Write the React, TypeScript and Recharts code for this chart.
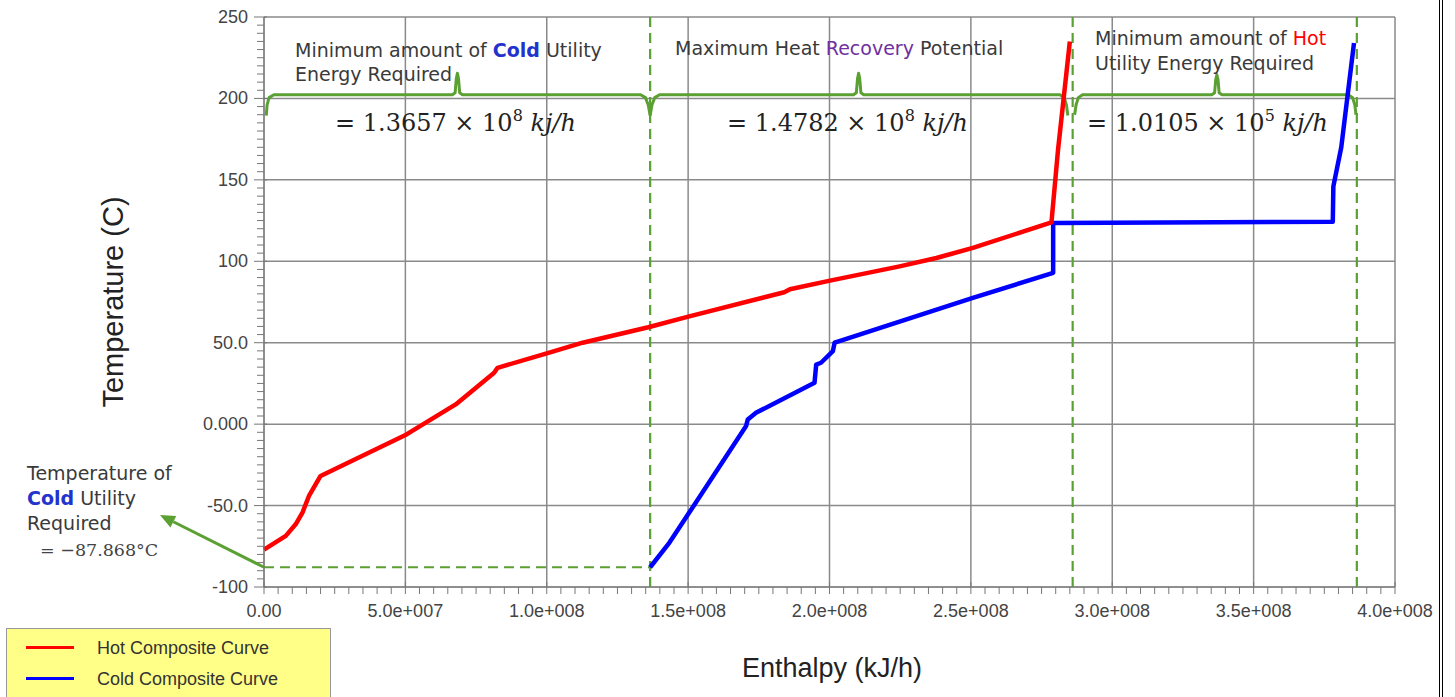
import { LineChart, Line, XAxis, YAxis, CartesianGrid, ReferenceLine } from 'recharts';

// composite curves (enthalpy kJ/h, temperature C)
const hotEnthalpy = [
  0, 7.7e6, 11.2e6, 13.6e6, 15.9e6, 20e6, 50.4e6, 67.8e6, 81.4e6, 82.6e6, 100e6, 112.7e6,
  135.9e6, 150.4e6, 184e6, 186e6, 200.6e6, 224.8e6, 237.8e6, 250.7e6, 278.5e6, 280.8e6, 285e6,
];
const hotTemp = [
  -77, -68.6, -61.5, -54.3, -44.1, -31.8, -6.3, 12.1, 31.5, 34.6, 43.4, 50,
  59.5, 66.2, 81, 82.8, 88.3, 96.9, 102, 108.2, 123.9, 168, 235,
];

const coldEnthalpy = [
  136.57e6, 143.4e6, 150.4e6, 170.5e6, 171.1e6, 174e6, 194.7e6, 195.3e6, 197e6, 201.2e6,
  201.8e6, 203.5e6, 250.7e6, 279.1e6, 279.1e6, 378e6, 378.2e6, 381e6, 385.5e6,
];
const coldTemp = [
  -87.868, -72.7, -54.3, -1.2, 2.9, 7, 25.4, 36.6, 37.7, 44.8,
  50, 51, 77.5, 92.9, 123.5, 124.3, 146, 170, 234,
];

// curly brackets above the three regions
const braceColdX = [0.8e6, 1.1e6, 1.8e6, 3.5e6, 66.6e6, 67.6e6, 68e6, 68.4e6, 68.8e6, 69.2e6, 70.2e6, 133.2e6, 134.9e6, 135.9e6, 136.57e6];
const braceRecovX = [136.57e6, 137.2e6, 138.2e6, 139.9e6, 208.5e6, 209.5e6, 209.9e6, 210.3e6, 210.7e6, 211.1e6, 212.1e6, 281.5e6, 283e6, 283.8e6, 284.3e6];
const braceHotX = [286.7e6, 287.2e6, 288e6, 289.5e6, 335.2e6, 336.2e6, 336.6e6, 337e6, 337.4e6, 337.8e6, 338.8e6, 383.5e6, 385e6, 385.8e6, 386.2e6];
const braceY = [189.5, 196, 200.5, 202.3, 202.3, 203.5, 212, 215.5, 212, 203.5, 202.3, 202.3, 200.5, 196, 189.5];
const braceHotY = [190, 196, 200.5, 202.3, 202.3, 203.5, 211.5, 214.5, 211.5, 203.5, 202.3, 202.3, 200.5, 196, 190];

const pinchLines = [136.57e6, 286e6, 386.5e6];
const coldUtilityTemp = -87.868;
const arrowTip = { h: -36.8e6, t: -55.8 };

const xMajor = [0, 5e7, 1e8, 1.5e8, 2e8, 2.5e8, 3e8, 3.5e8, 4e8];
const xLabels = ['0.00', '5.0e+007', '1.0e+008', '1.5e+008', '2.0e+008', '2.5e+008', '3.0e+008', '3.5e+008', '4.0e+008'];
const yMajor = [-100, -50, 0, 50, 100, 150, 200, 250];
const yLabels = ['-100', '-50.0', '0.000', '50.0', '100', '150', '200', '250'];

const xMinor = Array.from({ length: 81 }, (_, i) => i * 5e6);
const yMinor = Array.from({ length: 71 }, (_, i) => -100 + i * 5);

const pts = (xs: number[], ys: number[]) => xs.map((h, i) => ({ h, t: ys[i] }));

const GREEN = '#5BA033';
const SANS = '"Liberation Sans", Arial, sans-serif';
const VERD = '"DejaVu Sans", Verdana, sans-serif';
const SERIF = '"DejaVu Serif", serif';

const XTick = (props: any) => {
  const { x, y, payload } = props;
  const idx = xMajor.indexOf(payload.value);
  const major = idx >= 0;
  return (
    <g>
      <line x1={x} x2={x} y1={major ? y - 5 : y} y2={y + 7} stroke="#777" strokeWidth={1} />
      {major && (
        <text x={x} y={y + 30} textAnchor="middle" fontSize={18} fill="#444" fontFamily={SANS}>
          {xLabels[idx]}
        </text>
      )}
    </g>
  );
};

const YTick = (props: any) => {
  const { x, y, payload } = props;
  const idx = yMajor.indexOf(payload.value);
  const major = idx >= 0;
  return (
    <g>
      <line x1={major ? x - 10 : x - 7} x2={major ? x + 3 : x} y1={y} y2={y} stroke="#777" strokeWidth={1} />
      {major && (
        <text x={x - 16} y={y + 6} textAnchor="end" fontSize={18} fill="#444" fontFamily={SANS}>
          {yLabels[idx]}
        </text>
      )}
    </g>
  );
};

const ArrowShape = (p: any) => {
  const { x1, y1, x2, y2 } = p;
  const ang = Math.atan2(y2 - y1, x2 - x1);
  const len = 15;
  const w = 6.5;
  const bx = x2 - len * Math.cos(ang);
  const by = y2 - len * Math.sin(ang);
  const px = -Math.sin(ang) * w;
  const py = Math.cos(ang) * w;
  return (
    <g>
      <line x1={x1} y1={y1} x2={bx} y2={by} stroke={GREEN} strokeWidth={3} />
      <polygon points={`${x2},${y2} ${bx + px},${by + py} ${bx - px},${by - py}`} fill={GREEN} />
    </g>
  );
};

const MathText = ({ x, y, mant, exp }: { x: number; y: number; mant: string; exp: string }) => (
  <text x={x} y={y} fontFamily={SERIF} fontSize={24} fill="#222">
    {'= ' + mant + ' × 10'}
    <tspan dy={-10} fontSize={16}>{exp}</tspan>
    <tspan dy={10} fontStyle="italic">{' kj/h'}</tspan>
  </text>
);

export default function App() {
  const braceProps = { dataKey: 't', stroke: GREEN, strokeWidth: 3, dot: false, isAnimationActive: false, strokeLinejoin: 'round' as const };
  return (
    <div style={{ position: 'absolute', left: 0, top: 0, width: 1455, height: 697, background: '#fff', overflow: 'hidden' }}>
      <LineChart width={1455} height={697} margin={{ top: 17, right: 60, bottom: 80, left: 204 }}>
        <CartesianGrid
          stroke="#8a8a8a"
          strokeWidth={1.5}
          horizontalValues={yMajor}
          verticalValues={xMajor}
        />
        <XAxis
          type="number"
          dataKey="h"
          domain={[0, 4e8]}
          ticks={xMinor}
          interval={0}
          tickSize={0}
          tickMargin={0}
          tick={<XTick />}
          height={30}
          stroke="#777"
        />
        <YAxis
          type="number"
          domain={[-100, 250]}
          ticks={yMinor}
          interval={0}
          tickSize={0}
          tickMargin={0}
          tick={<YTick />}
          width={60}
          stroke="#777"
        />
        {pinchLines.map((v) => (
          <ReferenceLine key={v} x={v} stroke={GREEN} strokeWidth={2.2} strokeDasharray="10 6" />
        ))}
        <ReferenceLine
          segment={[{ x: 0, y: coldUtilityTemp }, { x: pinchLines[0], y: coldUtilityTemp }]}
          stroke={GREEN}
          strokeWidth={2.2}
          strokeDasharray="10 6"
        />
        <ReferenceLine
          segment={[{ x: 0, y: coldUtilityTemp }, { x: arrowTip.h, y: arrowTip.t }]}
          ifOverflow="visible"
          shape={ArrowShape}
        />
        <Line data={pts(braceColdX, braceY)} {...braceProps} />
        <Line data={pts(braceRecovX, braceY)} {...braceProps} />
        <Line data={pts(braceHotX, braceHotY)} {...braceProps} />
        <Line data={pts(coldEnthalpy, coldTemp)} dataKey="t" stroke="#0000ff" strokeWidth={4.5} dot={false} isAnimationActive={false} strokeLinejoin="round" />
        <Line data={pts(hotEnthalpy, hotTemp)} dataKey="t" stroke="#ff0000" strokeWidth={4.5} dot={false} isAnimationActive={false} strokeLinejoin="round" />
      </LineChart>

      <svg width={1455} height={697} style={{ position: 'absolute', left: 0, top: 0, pointerEvents: 'none' }}>
        <g fontFamily={VERD} fontSize={19} fill="#3a3a3a">
          <text x={295} y={57}>
            Minimum amount of <tspan fill="#2233cc" fontWeight="bold">Cold</tspan> Utility
          </text>
          <text x={295} y={81}>Energy Required</text>
          <text x={675} y={55}>
            Maximum Heat <tspan fill="#7030A0">Recovery</tspan> Potential
          </text>
          <text x={1095} y={45}>
            Minimum amount of <tspan fill="#ff0000">Hot</tspan>
          </text>
          <text x={1095} y={70}>Utility Energy Required</text>
        </g>
        <MathText x={335} y={131} mant="1.3657" exp="8" />
        <MathText x={727} y={131} mant="1.4782" exp="8" />
        <MathText x={1087} y={131} mant="1.0105" exp="5" />

        <g fontFamily={VERD} fontSize={19} fill="#3a3a3a">
          <text x={27} y={480}>Temperature of</text>
          <text x={27} y={505}>
            <tspan fill="#2233cc" fontWeight="bold">Cold</tspan> Utility
          </text>
          <text x={27} y={530}>Required</text>
        </g>
        <text x={40} y={556} fontFamily={SERIF} fontSize={17.5} fill="#444">
          = −87.868°C
        </text>

        <text x={123} y={302} transform="rotate(-90 123 302)" textAnchor="middle" fontFamily={SANS} fontSize={29} fill="#222">
          Temperature (C)
        </text>
        <text x={832} y={677} textAnchor="middle" fontFamily={SANS} fontSize={27} fill="#222">
          Enthalpy (kJ/h)
        </text>
      </svg>

      <div
        style={{
          position: 'absolute',
          left: 6,
          top: 628,
          width: 323,
          height: 80,
          background: '#ffff88',
          border: '1px solid #999',
          fontFamily: SANS,
          fontSize: 18,
          color: '#333',
        }}
      >
        <div style={{ position: 'absolute', left: 19, top: 17, width: 48, height: 3, background: '#ff0000' }} />
        <div style={{ position: 'absolute', left: 90, top: 9, lineHeight: '20px' }}>Hot Composite Curve</div>
        <div style={{ position: 'absolute', left: 19, top: 48, width: 48, height: 3, background: '#0000ff' }} />
        <div style={{ position: 'absolute', left: 90, top: 40, lineHeight: '20px' }}>Cold Composite Curve</div>
      </div>

      <div style={{ position: 'absolute', left: 1439, top: 0, width: 2, height: 697, borderLeft: '1px solid #000', borderRight: '1px solid #000' }} />
    </div>
  );
}
